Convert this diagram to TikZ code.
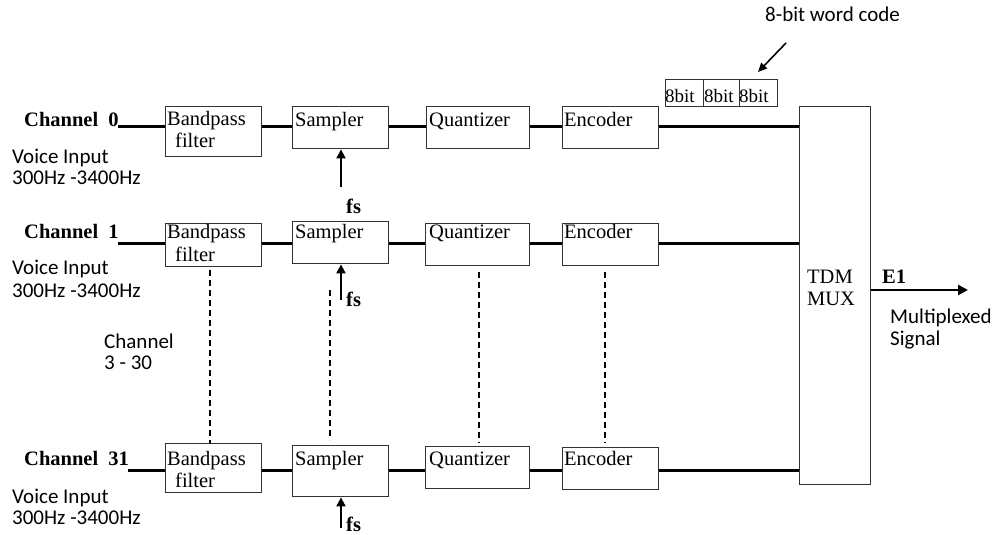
\documentclass[tikz,border=0pt]{standalone}
\usepackage{fontspec}
\setmainfont{Liberation Serif}
\newfontfamily\calibri{Carlito}
\usetikzlibrary{arrows.meta}
\begin{document}
\begin{tikzpicture}[x=1pt,y=-1pt,
  blk/.style={draw=black!80,line width=1.4pt,anchor=north west,inner sep=0pt},
  sig/.style={line width=3pt,black},
  txt/.style={anchor=base west,inner sep=0pt,font=\fontsize{20.5}{23}\selectfont},
  chan/.style={txt,font=\fontsize{20.5}{23}\selectfont\bfseries},
  cal/.style={anchor=base west,inner sep=0pt,font=\calibri\fontsize{21}{24}\selectfont},
  clk/.style={line width=1.9pt,-{Triangle[length=9pt,width=9pt]}},
  dots/.style={line width=1.6pt,dash pattern=on 6pt off 4pt}]
\useasboundingbox (0,0) rectangle (1001,535);

% ---- channel 0 ----
\node[blk,minimum width=96pt,minimum height=50pt] (bp0) at (165,106) {};
\node[blk,minimum width=96pt,minimum height=42pt] (sm0) at (292,106) {};
\node[blk,minimum width=103pt,minimum height=42pt] (qz0) at (426,106) {};
\node[blk,minimum width=96pt,minimum height=42pt] (en0) at (562,106) {};
% ---- channel 1 ----
\node[blk,minimum width=96pt,minimum height=43pt] (bp1) at (165,223) {};
\node[blk,minimum width=96pt,minimum height=42pt] (sm1) at (292,221) {};
\node[blk,minimum width=104pt,minimum height=42pt] (qz1) at (425,223) {};
\node[blk,minimum width=96pt,minimum height=42pt] (en1) at (562,223) {};
% ---- channel 31 ----
\node[blk,minimum width=96pt,minimum height=49pt] (bp31) at (165,443) {};
\node[blk,minimum width=96pt,minimum height=51pt] (sm31) at (292,445) {};
\node[blk,minimum width=104pt,minimum height=42pt] (qz31) at (425,446) {};
\node[blk,minimum width=96pt,minimum height=42pt] (en31) at (562,447) {};
% ---- multiplexer ----
\node[blk,minimum width=71pt,minimum height=378pt] (mux) at (799,106) {};

% word code cells
\node[blk,minimum width=38pt,minimum height=27pt] (w1) at (665,79) {};
\node[blk,minimum width=36pt,minimum height=27pt] (w2) at (703,79) {};
\node[blk,minimum width=38pt,minimum height=27pt] (w3) at (739,79) {};
\node[txt,font=\fontsize{19}{21}\selectfont] (w1t) at (665,102) {8bit};
\node[txt,font=\fontsize{19}{21}\selectfont] (w2t) at (704,102) {8bit};
\node[txt,font=\fontsize{19}{21}\selectfont] (w3t) at (739,102) {8bit};
\node[cal] (wc) at (765,22) {8-bit word code};
\coordinate (wcs) at (786,43);
\coordinate (wce) at (758,72);
\draw[line width=1.6pt,-{Triangle[length=9pt,width=8pt]}] (wcs) -- (wce);

% channel labels
\node[chan] (c0) at (24,126) {Channel\ \ 0};
\node[chan] (c1) at (24,238) {Channel\ \ 1};
\node[chan] (c31) at (24,465) {Channel\ \ 31};
\node[cal] (v0a) at (12,163) {Voice Input};
\node[cal] (v0b) at (12,184) {300Hz -3400Hz};
\node[cal] (v1a) at (12,274) {Voice Input};
\node[cal] (v1b) at (12,297) {300Hz -3400Hz};
\node[cal] (v31a) at (12,503) {Voice Input};
\node[cal] (v31b) at (12,524) {300Hz -3400Hz};
\node[cal] (cm1) at (104,348) {Channel};
\node[cal] (cm2) at (104,369) {3 - 30};

% block texts
\node[txt] (bp0a) at (167,125) {Bandpass};
\node[txt] (bp0b) at (175,147) {filter};
\node[txt] (sm0t) at (295,126) {Sampler};
\node[txt] (qz0t) at (429,126) {Quantizer};
\node[txt] (en0t) at (564,126) {Encoder};
\node[txt] (bp1a) at (167,238) {Bandpass};
\node[txt] (bp1b) at (175,261) {filter};
\node[txt] (sm1t) at (295,238) {Sampler};
\node[txt] (qz1t) at (429,238) {Quantizer};
\node[txt] (en1t) at (564,238) {Encoder};
\node[txt] (bp31a) at (167,465) {Bandpass};
\node[txt] (bp31b) at (175,487) {filter};
\node[txt] (sm31t) at (295,465) {Sampler};
\node[txt] (qz31t) at (429,465) {Quantizer};
\node[txt] (en31t) at (564,465) {Encoder};
\node[txt] (tdm) at (807,283) {TDM};
\node[txt] (muxt) at (807,305) {MUX};

% signal paths
\coordinate (in0) at (118,126);
\coordinate (in1) at (118,243);
\coordinate (in31) at (128,470);
\draw[sig] (in0) -- (in0 -| bp0.west) (bp0.east |- in0) -- (in0 -| sm0.west)
  (sm0.east |- in0) -- (in0 -| qz0.west) (qz0.east |- in0) -- (in0 -| en0.west)
  (en0.east |- in0) -- (in0 -| mux.west);
\draw[sig] (in1) -- (in1 -| bp1.west) (bp1.east |- in1) -- (in1 -| sm1.west)
  (sm1.east |- in1) -- (in1 -| qz1.west) (qz1.east |- in1) -- (in1 -| en1.west)
  (en1.east |- in1) -- (in1 -| mux.west);
\draw[sig] (in31) -- (in31 -| bp31.west) (bp31.east |- in31) -- (in31 -| sm31.west)
  (sm31.east |- in31) -- (in31 -| qz31.west) (qz31.east |- in31) -- (in31 -| en31.west)
  (en31.east |- in31) -- (in31 -| mux.west);

% sampling clocks
\coordinate (f0) at (341,187);
\coordinate (f1) at (341,300);
\coordinate (f31) at (341,528);
\draw[clk] (f0) -- (f0 |- sm0.south);
\draw[clk] (f1) -- (f1 |- sm1.south);
\draw[clk] (f31) -- (f31 |- sm31.south);
\node[txt,font=\fontsize{20.5}{23}\selectfont\bfseries] (fs0) at (346,213) {fs};
\node[txt,font=\fontsize{20.5}{23}\selectfont\bfseries] (fs1) at (346,306) {fs};
\node[txt,font=\fontsize{20.5}{23}\selectfont\bfseries] (fs31) at (346,531) {fs};

% omitted channels
\draw[dots] (210,270) -- (bp31.north -| 210,0);
\draw[dots] (330,290) -- (330,440);
\draw[dots] (479,272) -- (479,443);
\draw[dots] (605,272) -- (605,443);

% multiplexed output
\coordinate (out) at (968,290);
\draw[line width=2.6pt,-{Triangle[length=10pt,width=10pt]}] (mux.east |- out) -- (out);
\node[txt,font=\fontsize{20.5}{23}\selectfont\bfseries] (e1) at (882,283) {E1};
\node[cal] (mp1) at (890,323) {Multiplexed};
\node[cal] (mp2) at (890,345) {Signal};
\end{tikzpicture}
\end{document}
